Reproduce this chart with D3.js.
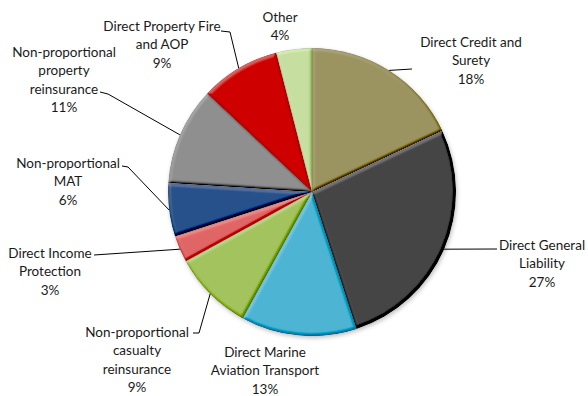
<!DOCTYPE html>
<html>
<head>
<meta charset="utf-8">
<script src="https://cdn.jsdelivr.net/npm/d3@7"></script>
<style>
  body { margin: 0; background: #fff; }
  svg text { font-family: Lato, "Open Sans", sans-serif; font-size: 13.5px; fill: #1a1a1a; }
</style>
</head>
<body>
<div id="chart"></div>
<script>
// data
var categories = ["Direct Credit and Surety", "Direct General Liability", "Direct Marine Aviation Transport",
  "Non-proportional casualty reinsurance", "Direct Income Protection", "Non-proportional MAT",
  "Non-proportional property reinsurance", "Direct Property Fire and AOP", "Other"];
var shares = [18, 27, 13, 9, 3, 6, 11, 9, 4];
var labelLines = [
  ["Direct Credit and", "Surety"],
  ["Direct General", "Liability"],
  ["Direct Marine", "Aviation Transport"],
  ["Non-proportional", "casualty", "reinsurance"],
  ["Direct Income", "Protection"],
  ["Non-proportional", "MAT"],
  ["Non-proportional", "property", "reinsurance"],
  ["Direct Property Fire", "and AOP"],
  ["Other"]
];
var sliceColors = ["#9c9461", "#444444", "#4db5d3", "#a2c35e", "#e06767", "#25528b", "#8f8f8f", "#cf0303", "#c6dea0"];

// layout: label block centre x / first line y, and leader elbow points (label side)
var labelPos = [[471, 47], [542, 250], [265, 357], [137, 337], [50, 258], [68, 168], [64, 57], [162, 31], [280, 22]];
var leaderFrom = [
  [[412, 69]],
  [[497, 249]],
  null,
  [[193, 333], [199, 333]],
  [[94, 255]],
  [[122, 166], [128, 167]],
  [[100, 92], [108, 94]],
  [[221, 31], [230, 32]],
  null
];

var width = 588, height = 396;
var cx = 312, cy = 192, radius = 144, lineH = 18.3;

var svg = d3.select("#chart").append("svg")
  .attr("width", width)
  .attr("height", height);

var defs = svg.append("defs");

// soft bevel on each slice
var bevel = defs.append("filter").attr("id", "bevel")
  .attr("x", "-5%").attr("y", "-5%").attr("width", "110%").attr("height", "110%");
bevel.append("feGaussianBlur").attr("in", "SourceAlpha").attr("stdDeviation", 1.8).attr("result", "blur");
bevel.append("feDiffuseLighting").attr("in", "blur").attr("surfaceScale", 3).attr("diffuseConstant", 1)
  .attr("lighting-color", "#fff").attr("result", "light")
  .append("feDistantLight").attr("azimuth", 235).attr("elevation", 45);
bevel.append("feComposite").attr("in", "SourceGraphic").attr("in2", "light").attr("operator", "arithmetic")
  .attr("k1", 0).attr("k2", 1).attr("k3", 0.38).attr("k4", -0.269).attr("result", "lit");
bevel.append("feComposite").attr("in", "lit").attr("in2", "SourceAlpha").attr("operator", "in");

var shadow = defs.append("filter").attr("id", "shadow")
  .attr("x", "-10%").attr("y", "-10%").attr("width", "125%").attr("height", "125%");
shadow.append("feDropShadow").attr("dx", 1).attr("dy", 2).attr("stdDeviation", 2)
  .attr("flood-color", "#000").attr("flood-opacity", 0.25);

var pie = d3.pie().sort(null).value(d => d);
var arcs = pie(shares);

var arc = d3.arc().innerRadius(0).outerRadius(radius);
var rimArc = d3.arc().innerRadius(radius).outerRadius(radius);

var pieGroup = svg.append("g")
  .attr("transform", `translate(${cx}, ${cy})`)
  .attr("filter", "url(#shadow)");

pieGroup.selectAll("path")
  .data(arcs)
  .enter()
  .append("path")
  .attr("d", arc)
  .attr("fill", (d, i) => sliceColors[i])
  .attr("stroke", "rgba(0,0,0,0.2)")
  .attr("stroke-width", 0.5)
  .attr("filter", "url(#bevel)");

// leader lines
var leaders = svg.append("g")
  .attr("fill", "none")
  .attr("stroke", "#000")
  .attr("stroke-width", 1);

arcs.forEach(function(d, i) {
  if (!leaderFrom[i]) return;
  var rim = rimArc.centroid(d);
  var pts = leaderFrom[i].concat([[cx + rim[0], cy + rim[1]]]);
  leaders.append("path").attr("d", d3.line()(pts));
});

// labels
var labelGroup = svg.append("g");
arcs.forEach(function(d, i) {
  var lines = labelLines[i].concat([d3.format(".0f")(shares[i]) + "%"]);
  var t = labelGroup.append("text")
    .attr("text-anchor", "middle")
    .attr("x", labelPos[i][0])
    .attr("y", labelPos[i][1]);
  lines.forEach(function(l, j) {
    t.append("tspan")
      .attr("x", labelPos[i][0])
      .attr("dy", j === 0 ? 0 : lineH)
      .text(l);
  });
});
</script>
</body>
</html>
